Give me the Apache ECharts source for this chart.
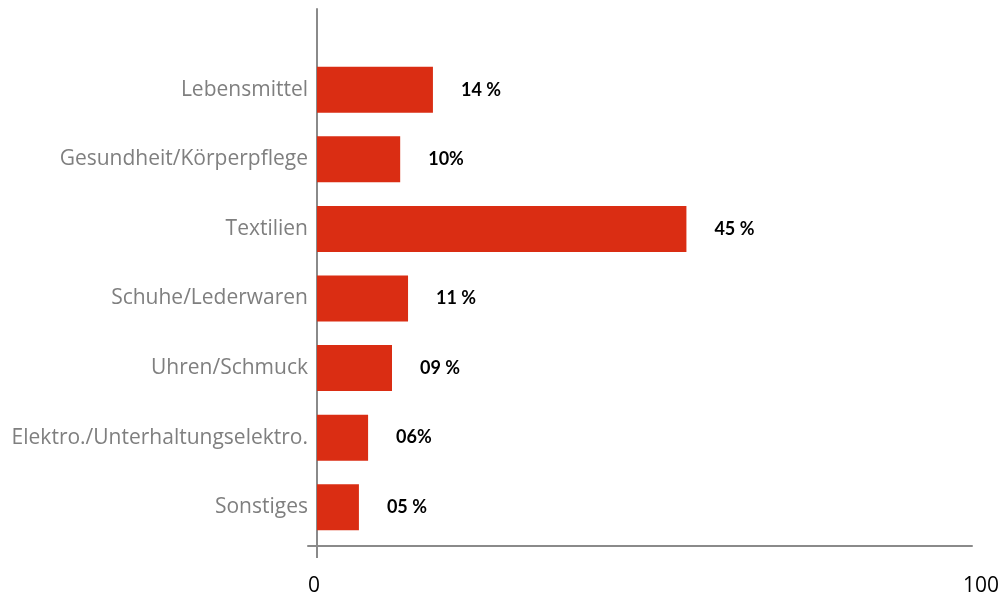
<!DOCTYPE html>
<html>
<head>
<meta charset="utf-8">
<script src="https://cdn.jsdelivr.net/npm/echarts@6/dist/echarts.min.js"></script>
<style>
html,body{margin:0;padding:0;background:#fff;}
#chart{width:1004px;height:597px;}
</style>
</head>
<body>
<div id="chart"></div>
<script>
const categories = ["Lebensmittel", "Gesundheit/Körperpflege", "Textilien", "Schuhe/Lederwaren", "Uhren/Schmuck", "Elektro./Unterhaltungselektro.", "Sonstiges"];
const values = [17.7, 12.7, 56.4, 13.9, 11.45, 7.8, 6.4];
const valueLabels = ["14 %", "10%", "45 %", "11 %", "09 %", "06%", "05 %"];
const xTickLabels = [0, 100];

const axisGray = "#8a8a8a";
const chart = echarts.init(document.getElementById('chart'));
chart.setOption({
  animation: false,
  grid: [
    {left: 317, right: 32, top: 55, bottom: 55},
    {left: 308, right: 32, top: 9, bottom: 50}
  ],
  xAxis: [
    {gridIndex: 0, type: 'value', min: 0, max: 100, show: false},
    {gridIndex: 1, type: 'value', min: -1.374, max: 100,
     axisLine: {show: true, lineStyle: {color: axisGray, width: 2}},
     axisTick: {show: true, customValues: [0], length: 12, lineStyle: {color: axisGray, width: 2}},
     axisLabel: {show: true, customValues: xTickLabels, margin: 30,
       formatter: v => v === 100 ? '{b|100}' : '{a|' + v + '}',
       rich: {a: {fontFamily: 'Open Sans', fontSize: 21, color: '#000', padding: [0, 6, 0, 0]},
              b: {fontFamily: 'Open Sans', fontSize: 21, color: '#000', padding: [0, 0, 0, 18]}}},
     splitLine: {show: false}}
  ],
  yAxis: [
    {gridIndex: 0, type: 'category', data: categories, inverse: true,
     axisLine: {show: false}, axisTick: {show: false},
     axisLabel: {show: true, margin: 9, color: '#7f7f7f', fontFamily: 'Open Sans', fontSize: 21, padding: [3, 0, 0, 0]}},
    {gridIndex: 1, type: 'value', min: 0, max: 1,
     axisLine: {show: true, onZero: true, lineStyle: {color: axisGray, width: 2}},
     axisTick: {show: false}, axisLabel: {show: false}, splitLine: {show: false}}
  ],
  series: [{
    type: 'bar',
    xAxisIndex: 0, yAxisIndex: 0,
    data: values,
    barWidth: 46,
    itemStyle: {color: '#da2d13'},
    label: {show: true, position: 'right', distance: 28,
      formatter: p => valueLabels[p.dataIndex],
      fontFamily: 'Lato', fontWeight: 'bold', fontSize: 18, color: '#000', padding: [2, 0, 0, 0]}
  }]
});
</script>
</body>
</html>
